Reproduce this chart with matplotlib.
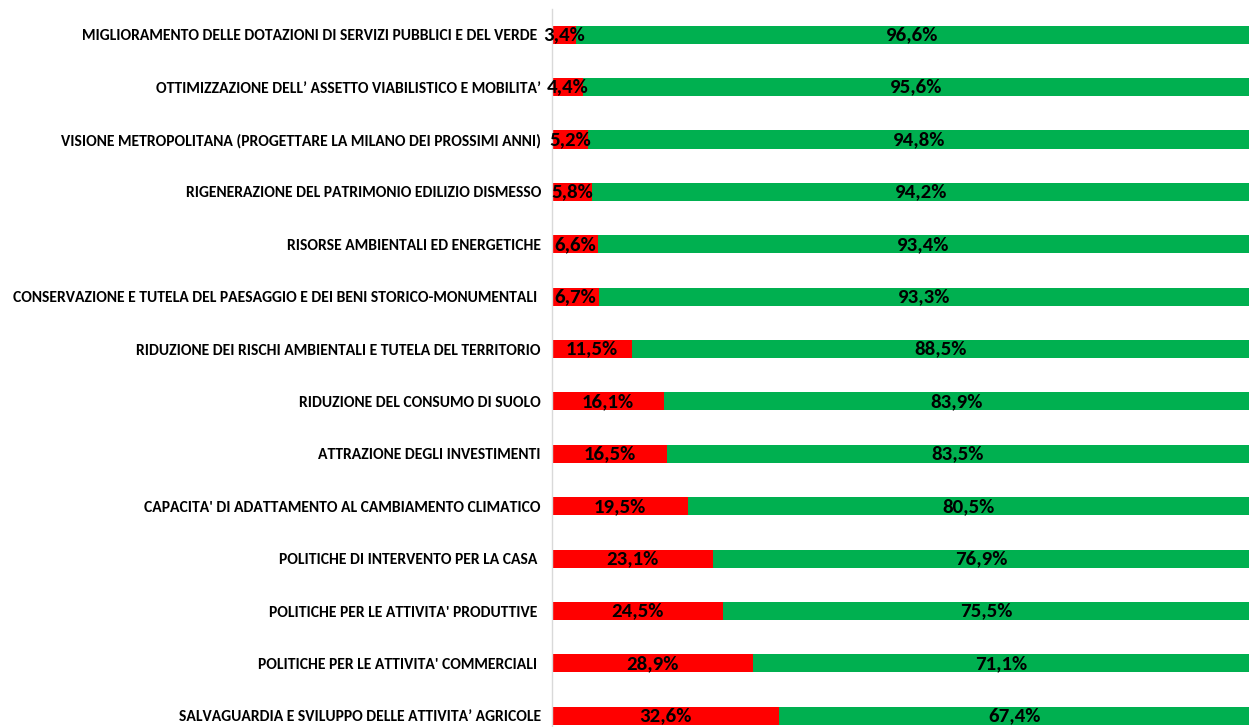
import matplotlib

matplotlib.use("Agg")
import matplotlib.pyplot as plt

import numpy as np

categories = [
    "MIGLIORAMENTO DELLE DOTAZIONI DI SERVIZI PUBBLICI E DEL VERDE ",
    "OTTIMIZZAZIONE DELL\u2019 ASSETTO VIABILISTICO E MOBILITA\u2019",
    "VISIONE METROPOLITANA (PROGETTARE LA MILANO DEI PROSSIMI ANNI)",
    "RIGENERAZIONE DEL PATRIMONIO EDILIZIO DISMESSO",
    "RISORSE AMBIENTALI ED ENERGETICHE",
    "CONSERVAZIONE E TUTELA DEL PAESAGGIO E DEI BENI STORICO-MONUMENTALI ",
    "RIDUZIONE DEI RISCHI AMBIENTALI E TUTELA DEL TERRITORIO",
    "RIDUZIONE DEL CONSUMO DI SUOLO",
    "ATTRAZIONE DEGLI INVESTIMENTI",
    "CAPACITA' DI ADATTAMENTO AL CAMBIAMENTO CLIMATICO",
    "POLITICHE DI INTERVENTO PER LA CASA ",
    "POLITICHE PER LE ATTIVITA' PRODUTTIVE ",
    "POLITICHE PER LE ATTIVITA' COMMERCIALI ",
    "SALVAGUARDIA E SVILUPPO DELLE ATTIVITA\u2019 AGRICOLE",
]
no_pct = [3.4, 4.4, 5.2, 5.8, 6.6, 6.7, 11.5, 16.1, 16.5, 19.5, 23.1, 24.5, 28.9, 32.6]
yes_pct = [96.6, 95.6, 94.8, 94.2, 93.4, 93.3, 88.5, 83.9, 83.5, 80.5, 76.9, 75.5, 71.1, 67.4]

# Carlito has the same metrics as Calibri
family = ["Carlito", "DejaVu Sans"]

red = "#FF0000"
green = "#00B050"

fig = plt.figure(figsize=(12.49, 7.27), dpi=100)
ax = fig.add_axes([552 / 1249, 1 - 742 / 727, 1 - 552 / 1249, (742 - 8.5) / 727])

y = np.arange(len(categories))
no = np.array(no_pct)
yes = np.array(yes_pct)

ax.barh(y, no, height=0.345, color=red, edgecolor="none")
ax.barh(y, yes, left=no, height=0.345, color=green, edgecolor="none")

for i in range(len(y)):
    ax.text(no[i] / 2, y[i], f"{no[i]:.1f}%".replace(".", ","), ha="center", va="center",
            fontsize=15, fontweight="bold", family=family, color="black")
    ax.text(no[i] + yes[i] / 2, y[i], f"{yes[i]:.1f}%".replace(".", ","), ha="center", va="center",
            fontsize=15, fontweight="bold", family=family, color="black")

ax.set_xlim(0, 100)
ax.set_ylim(len(categories) - 0.5, -0.5)
ax.set_yticks(y)
ax.set_yticklabels(categories, fontsize=11.25, fontweight="bold", family=family)
ax.tick_params(axis="y", length=0, pad=8)
ax.set_xticks([])
for s in ["top", "right", "bottom"]:
    ax.spines[s].set_visible(False)
ax.spines["left"].set_color("#d9d9d9")
ax.spines["left"].set_linewidth(1)

plt.savefig("out.png", dpi=100)
